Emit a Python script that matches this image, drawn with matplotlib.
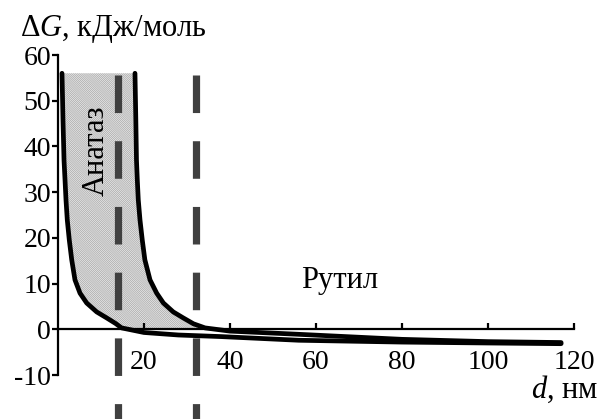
import numpy as np
import matplotlib.pyplot as plt

plt.rcParams['font.family'] = ['Liberation Serif', 'DejaVu Serif']
plt.rcParams['mathtext.fontset'] = 'custom'
plt.rcParams['mathtext.rm'] = 'Liberation Serif'
plt.rcParams['mathtext.it'] = 'Liberation Serif:italic'
plt.rcParams['axes.unicode_minus'] = False
plt.rcParams['hatch.linewidth'] = 0.5

# --- Dados ---
d_esq = [0.93, 1.16, 1.4, 1.63, 1.86, 2.16, 2.63, 3.19, 3.95, 5.12, 6.67, 9.0, 11.3,
         13.4, 14.8, 20, 28, 38, 56, 80, 100, 117]
g_esq = [56.0, 45.8, 37.0, 32.7, 28.3, 23.9, 19.5, 15.2, 10.8, 7.9, 5.75, 3.8, 2.5,
         1.27, 0.3, -0.7, -1.25, -1.6, -2.4, -2.8, -3.0, -3.15]

d_dir = [17.9, 18.1, 18.25, 18.44, 18.67, 19.07, 19.6, 20.2, 21.4, 22.95, 24.5, 26.8,
         29.1, 31.5, 34.2, 40, 56, 80, 100, 117]
g_dir = [56.0, 45.8, 37.0, 32.7, 28.3, 23.9, 19.5, 15.2, 10.8, 7.9, 5.75, 3.8,
         2.5, 1.2, 0.3, -0.4, -1.1, -2.2, -2.7, -2.9]

tracejadas = [14, 32]
x_ticks = [20, 40, 60, 80, 100, 120]
y_ticks = [-10, 0, 10, 20, 30, 40, 50, 60]

fig = plt.figure(figsize=(6.01, 4.19), dpi=100)
ax = fig.add_axes([58 / 601, 1 - 375 / 419, 516 / 601, 320 / 419])
ax.set_xlim(0, 120)
ax.set_ylim(-10, 60)

# região sombreada (anatase) entre as curvas, acima de zero
n_e = sum(1 for g in g_esq if g >= 0)
n_d = sum(1 for g in g_dir if g >= 0)
px = list(d_esq[:n_e]) + [d_esq[n_e - 1], d_dir[n_d - 1]] + list(d_dir[:n_d][::-1])
py = list(g_esq[:n_e]) + [0, 0] + list(g_dir[:n_d][::-1])
ax.fill(px, py, facecolor='#ebebeb', edgecolor='#a6a6a6', hatch='\\' * 16,
        linewidth=0, zorder=1)

for x in tracejadas:
    ax.plot([x, x], [55.7, -19.8], color='#404040', lw=5.2, dashes=(5.2, 3.9),
            solid_capstyle='butt', clip_on=False, zorder=3)

ax.plot(d_esq, g_esq, color='black', lw=3.4, solid_capstyle='round', zorder=4)
ax.plot(d_dir, g_dir, color='black', lw=3.4, solid_capstyle='round', zorder=4)

for s in ['top', 'right']:
    ax.spines[s].set_visible(False)
ax.spines['bottom'].set_position(('data', 0))
ax.spines['left'].set_linewidth(1.6)
ax.spines['bottom'].set_linewidth(1.6)
ax.spines['bottom'].set_zorder(2)

ax.set_xticks(x_ticks)
ax.set_yticks(y_ticks)
ax.tick_params(axis='x', direction='in', length=4, width=1.6, pad=15, labelsize=20)
ax.tick_params(axis='y', direction='out', length=4, width=1.6, pad=1, labelsize=20)

fig.text(20 / 601, 1 - 36 / 419, r'$\Delta G$, кДж/моль', fontsize=22, ha='left', va='baseline')
fig.text(598 / 601, 1 - 398 / 419, r'$d$, нм', fontsize=22, ha='right', va='baseline')
ax.text(56.5, 9, 'Рутил', fontsize=22, ha='left', va='baseline')
ax.text(8.8, 39, 'Анатаз', fontsize=22, rotation=90, ha='center', va='center', zorder=5)

fig.savefig('out.png', dpi=100)
